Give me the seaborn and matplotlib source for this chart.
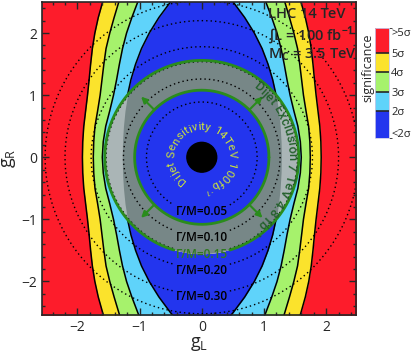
import numpy as np
import pandas as pd
import matplotlib
matplotlib.use('Agg')
import matplotlib.pyplot as plt
import seaborn as sns
from matplotlib.patches import Annulus, Circle
from matplotlib.colors import ListedColormap, BoundaryNorm
from matplotlib.cm import ScalarMappable
from matplotlib import font_manager

# half-width |gL| of each significance contour, read at gR >= 0 (plot is mirror symmetric)
gR_pts = [0.0, 0.25, 0.5, 0.75, 1.0, 1.25, 1.5, 1.75, 2.0, 2.25, 2.5, 2.6]
sig2_w = [1.28, 1.275, 1.26, 1.235, 1.195, 1.14, 1.065, 0.97, 0.845, 0.69, 0.505, 0.42]
sig3_w = [1.60, 1.585, 1.545, 1.48, 1.42, 1.37, 1.325, 1.275, 1.21, 1.125, 1.03, 0.99]
sig4_w = [1.745, 1.738, 1.718, 1.675, 1.635, 1.605, 1.575, 1.54, 1.48, 1.41, 1.335, 1.305]
sig5_w = [1.92, 1.915, 1.898, 1.868, 1.838, 1.812, 1.788, 1.76, 1.72, 1.665, 1.595, 1.565]

band_labels = ['<2σ', '2σ', '3σ', '4σ', '5σ', '>5σ']
band_colors = ['#2335ee', '#5fd3fa', '#a6f26c', '#fbe32c', '#fd1c2b']
grey_colors = ['#778787', '#aab5b6', '#d6dcdc', '#e5e5e0', '#dddddd']

# width contours Gamma/M (circles in gL, gR)
gm_values = [0.05, 0.10, 0.15, 0.20, 0.30, 0.40]
gm_radius = [0.89, 1.26, 1.54, 1.78, 2.20, 2.52]
gm_label_y = [-0.88, -1.29, -1.57, -1.82, -2.24, None]

# dijet regions
r_sens14 = 1.08
r_excl7 = 1.56
blob_r = 0.24

green = '#2a8c1c'

sns.set_style("ticks")
plt.rcParams['font.family'] = ['Open Sans', 'DejaVu Sans']
plt.rcParams['mathtext.fontset'] = 'custom'
plt.rcParams['mathtext.rm'] = 'Open Sans'
plt.rcParams['mathtext.bf'] = 'Open Sans:bold'

fig = plt.figure(figsize=(4.12, 3.54), dpi=100)
ax = fig.add_axes([42/412, 39/354, 314/412, 313/354])
ax.set_xlim(-2.57, 2.48)
ax.set_ylim(-2.54, 2.5)

def mirror(vals):
    return np.concatenate([vals[::-1], vals[1:]])

gR_full = np.concatenate([-np.array(gR_pts)[::-1], np.array(gR_pts)[1:]])
widths = [mirror(np.array(w)) for w in [sig2_w, sig3_w, sig4_w, sig5_w]]

def draw_bands(colors, z, clip=None):
    polys = [ax.fill_betweenx(gR_full, -3, 3, color=colors[4], lw=0, zorder=z)]
    for k in range(3, -1, -1):
        w = widths[k]
        polys.append(ax.fill_betweenx(gR_full, -w, w, color=colors[k], lw=0, zorder=z))
    if clip is not None:
        for p in polys:
            p.set_clip_path(clip)

draw_bands(band_colors, 1)
for w in widths:
    for sgn in (-1, 1):
        df = pd.DataFrame({'gL': sgn * w, 'gR': gR_full})
        sns.lineplot(data=df, x='gL', y='gR', sort=False, estimator=None,
                     color='k', lw=1.1, ax=ax, zorder=2)

ann = Annulus((0, 0), r_excl7, r_excl7 - r_sens14, transform=ax.transData,
              fc='none', ec='none')
ax.add_patch(ann)
draw_bands(grey_colors, 3, clip=ann)

# Gamma/M dotted circles with labels
for gm, r, ly in zip(gm_values, gm_radius, gm_label_y):
    if ly is None:
        t = np.linspace(0, 2*np.pi, 400)
    else:
        gap = np.arcsin(min(0.45 / r, 0.99))
        t = np.linspace(-np.pi/2 + gap, 3*np.pi/2 - gap, 400)
    ax.plot(r*np.cos(t), r*np.sin(t), color='k', lw=1.0, ls=(0, (1, 2.2)), zorder=4)
    if ly is not None:
        ax.text(0, ly, 'Γ/M=%.2f' % gm, ha='center', va='center', fontsize=8.5,
                fontweight='semibold', color='#2f7a1f' if gm == 0.15 else 'k', zorder=8)

# green circles
t = np.linspace(0, 2*np.pi, 400)
ax.plot(r_sens14*np.cos(t), r_sens14*np.sin(t), color=green, lw=2, zorder=5)
gap = np.arcsin(0.45 / r_excl7)
t = np.linspace(-np.pi/2 + gap, 3*np.pi/2 - gap, 400)
ax.plot(r_excl7*np.cos(t), r_excl7*np.sin(t), color=green, lw=2, zorder=5)

for ang in [45, 135, 225, 315]:
    a = np.deg2rad(ang)
    ax.annotate('', xy=(1.38*np.cos(a), 1.38*np.sin(a)),
                xytext=(r_sens14*np.cos(a), r_sens14*np.sin(a)),
                arrowprops=dict(arrowstyle='-|>', color=green, lw=1.5,
                                mutation_scale=9, shrinkA=0, shrinkB=0), zorder=6)

ax.add_patch(Circle((0, 0), blob_r, color='k', zorder=7))

# text along an arc, clockwise, tops outward; segments = (text, scale, raise)
px_per_data = 314 / (2.48 + 2.57)

def arc_text(segs, r, a0, a1, color, fam='Roboto', weight='normal'):
    fp = font_manager.FontProperties(family=fam, weight=weight)
    font = font_manager.get_font(font_manager.findfont(fp))
    font.set_size(100, 72)
    chars = []
    for txt, sc, rs in segs:
        for ch in txt:
            g = font.load_char(ord(ch))
            chars.append((ch, g.linearHoriAdvance / 65536 / 100 * sc, sc, rs))
    adv = np.array([c[1] for c in chars])
    total = adv.sum()
    arc_pts = r * abs(np.deg2rad(a1 - a0)) * px_per_data * 72 / 100
    size = arc_pts / total
    cum = np.cumsum(adv) - adv / 2
    for (ch, _, sc, rs), c in zip(chars, cum):
        ang = a0 + (a1 - a0) * c / total
        a = np.deg2rad(ang)
        rr = r + rs * size * 100 / 72 / px_per_data
        ax.text(rr*np.cos(a), rr*np.sin(a), ch, rotation=ang - 90, rotation_mode='anchor',
                ha='center', va='baseline', fontsize=size * sc, color=color,
                family=fam, fontweight=weight, zorder=8)

arc_text([('Dijet Sensitivity 14TeV 100fb', 1, 0), ('-1', 0.65, 0.45)],
         0.44, 236, -84, '#cce23c')
arc_text([('Dijet Exclusion 7 TeV 4.8 fb', 1, 0), ('-1', 0.65, 0.45)],
         1.39, 54, -55, '#24602c', weight='medium')

ax.text(1.06, 2.30, 'LHC 14 TeV', fontsize=10.5, va='center', fontweight='semibold', zorder=9)
ax.text(1.06, 1.96, '∫L = 100 fb$^{\\mathbf{-1}}$', fontsize=10.5, va='center',
        fontweight='semibold', zorder=9)
ax.text(1.06, 1.66, 'M$_\\mathbf{C}$ = 3.5 TeV', fontsize=10.5, va='center',
        fontweight='semibold', zorder=9)

ax.set_xticks([-2, -1, 0, 1, 2])
ax.set_yticks([-2, -1, 0, 1, 2])
ax.set_xticks(np.arange(-2.4, 2.5, 0.2), minor=True)
ax.set_yticks(np.arange(-2.4, 2.5, 0.2), minor=True)
ax.tick_params(which='both', direction='in', top=True, right=True, labelsize=10, width=1)
ax.tick_params(which='major', length=5)
ax.tick_params(which='minor', length=2.5)
for sp in ax.spines.values():
    sp.set_linewidth(1.2)
    sp.set_zorder(10)
ax.set_xlabel('g$_\\mathrm{L}$', fontsize=13, labelpad=0)
ax.set_ylabel('g$_\\mathrm{R}$', fontsize=13, labelpad=2)
ax.set_axisbelow(False)

# discrete colour bar
cax = fig.add_axes([375/412, 1 - 138/354, 14/412, 110/354])
bounds = [0.62, 2, 3, 4, 5, 6.28]
norm = BoundaryNorm(bounds, 5)
cb = fig.colorbar(ScalarMappable(norm=norm, cmap=ListedColormap(band_colors)), cax=cax,
                  boundaries=bounds, spacing='proportional', drawedges=True)
cb.set_ticks([0.9, 2, 3, 4, 5, 6.05])
cb.set_ticklabels(band_labels)
cax.tick_params(length=0, labelsize=8, pad=1.5)
cb.dividers.set_linewidth(1.2)
cb.outline.set_edgecolor('#c8c8e8')
cb.outline.set_linewidth(0.6)
fig.text(368/412, 1 - 68/354, 'significance', rotation=90, ha='center', va='center', fontsize=9)

fig.savefig('out.png', dpi=100)
